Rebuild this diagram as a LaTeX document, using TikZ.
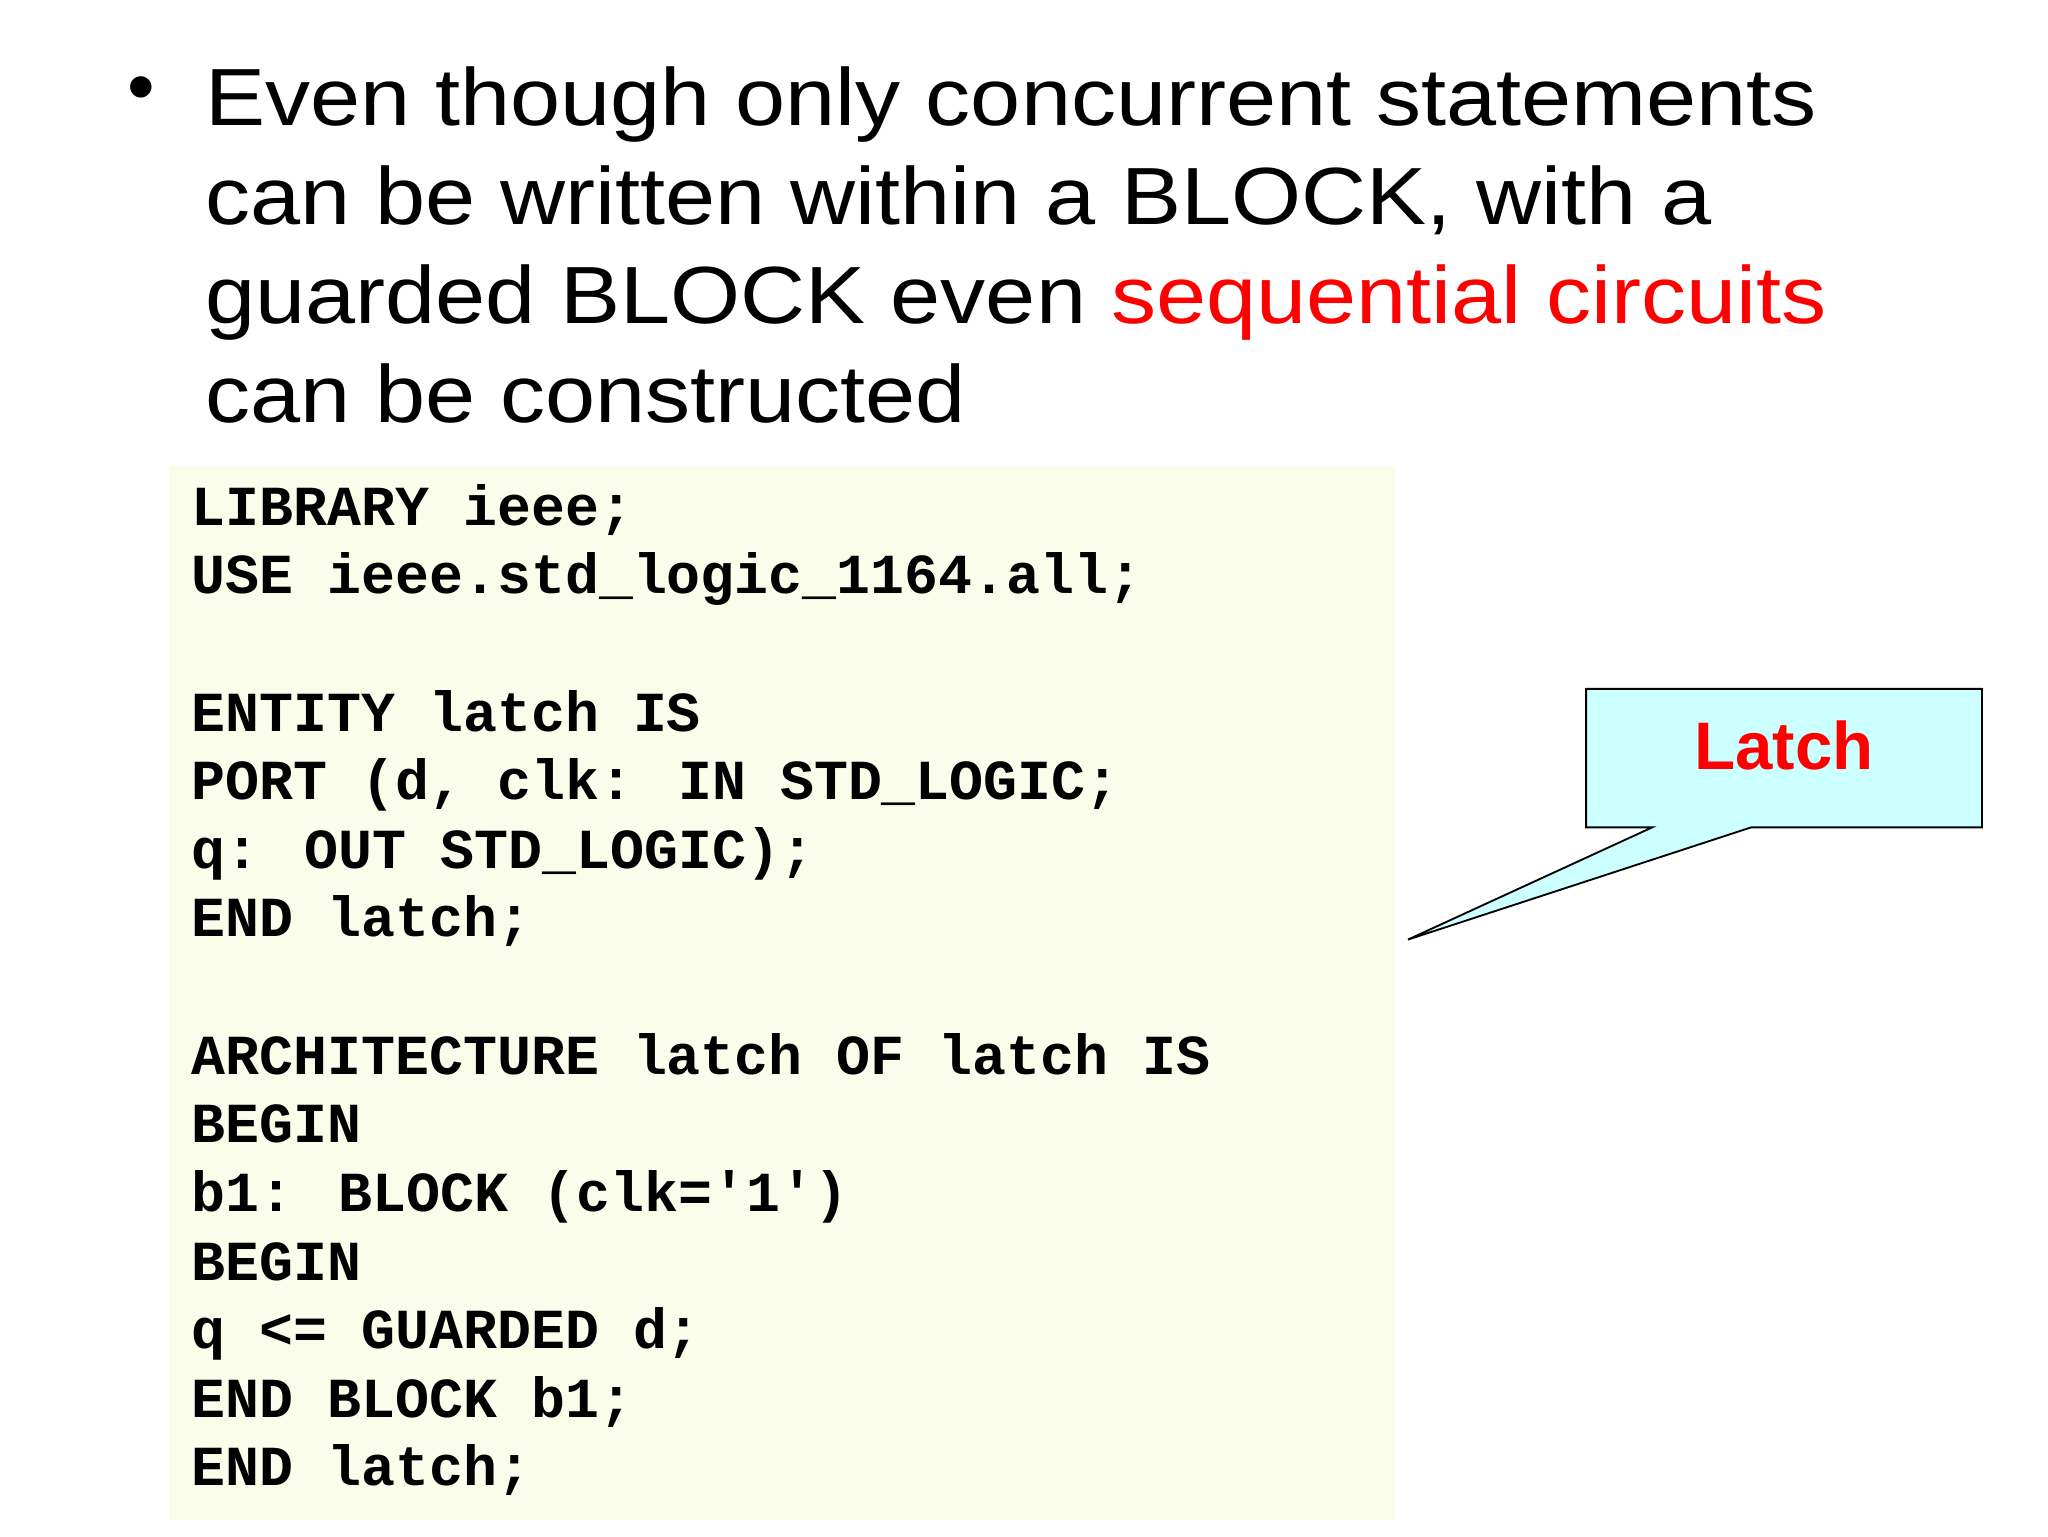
\documentclass[tikz,border=0pt]{standalone}
\usepackage{fontspec}
\setmainfont{Liberation Sans}
\newfontfamily\widefont[FakeStretch=1.11]{Liberation Sans}
\newfontfamily\codefont{Liberation Mono}
\begin{document}
\begin{tikzpicture}[x=0.02cm,y=-0.02cm,
  title/.style={anchor=base west,inner sep=0,font=\widefont\fontsize{35}{40}\selectfont},
  code/.style={anchor=base west,inner sep=0,font=\codefont\bfseries\fontsize{24.4}{29}\selectfont}]
\useasboundingbox (0,0) rectangle (1552,1164);
\node[inner sep=0,font=\fontsize{34}{40}\selectfont] (bul) at (107,72) {•};
\node[title] (t1) at (155,95) {Even though only concurrent statements};
\node[title] (t2) at (155,170) {can be written within a BLOCK, with a};
\node[title] (t3) at (155,245) {guarded BLOCK even \textcolor{red}{sequential circuits}};
\node[title] (t4) at (155,320) {can be constructed};
\fill[fill={rgb,255:red,251;green,253;blue,235}] (128,353) rectangle (1057,1152);
\foreach \t [count=\i from 0] in {LIBRARY ieee;,USE ieee.std\_logic\_1164.all;,,ENTITY latch IS,PORT (d{,} clk: IN STD\_LOGIC;,q: OUT STD\_LOGIC);,END latch;,,ARCHITECTURE latch OF latch IS,BEGIN,b1: BLOCK (clk='1'),BEGIN,q <= GUARDED d;,END BLOCK b1;,END latch;}
  \node[code] (c\i) at (145,{398+52*\i}) {\t};
\draw[fill={rgb,255:red,204;green,255;blue,255},line width=0.8pt]
  (1202,522) -- (1502,522) -- (1502,627) -- (1327,627) -- (1067,712) -- (1252,627) -- (1202,627) -- cycle;
\node[inner sep=0,text=red,font=\bfseries\fontsize{29}{34}\selectfont] (lat) at (1352,565) {Latch};
\end{tikzpicture}
\end{document}
